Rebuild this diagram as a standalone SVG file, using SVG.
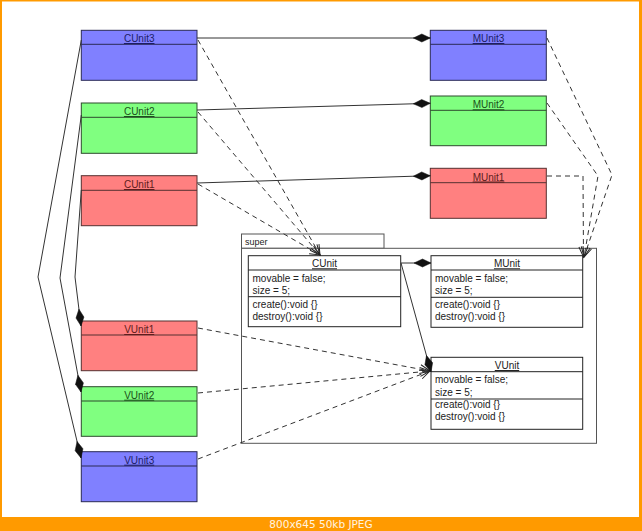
<svg xmlns="http://www.w3.org/2000/svg" width="642" height="531" viewBox="0 0 642 531">
<style>
.t{font-family:"Liberation Sans",Arial,sans-serif;font-size:10px;fill:#222}
.title{text-anchor:middle;text-decoration:underline}
.cls{fill:#fff;stroke:#222;stroke-width:1}
.div{stroke:#222;stroke-width:1}
.blue{fill:#8080ff;stroke:#2a2a55;stroke-width:1}
.green{fill:#80ff80;stroke:#2d4a2d;stroke-width:1}
.red{fill:#ff8080;stroke:#553030;stroke-width:1}
.tb{fill:#1c1c66}
.tg{fill:#1a501a}
.tr{fill:#601c1c}
.solid{fill:none;stroke:#333;stroke-width:1}
.dash{fill:none;stroke:#333;stroke-width:1;stroke-dasharray:5,4}
</style>
<defs>
<marker id="diamond" markerUnits="userSpaceOnUse" orient="auto" refX="17" refY="0" markerWidth="20" markerHeight="10" viewBox="0 -5 20 10" overflow="visible">
<path d="M0,0 L8.5,-4 L17,0 L8.5,4 z" fill="#111" stroke="#111" stroke-width="0.5"/>
</marker>
<marker id="open" markerUnits="userSpaceOnUse" orient="auto" refX="0" refY="0" markerWidth="12" markerHeight="10" viewBox="-12 -5 12 10" overflow="visible">
<path d="M-10,-4.5 L0,0 L-10,4.5" fill="none" stroke="#222" stroke-width="1"/>
</marker>
</defs>
<rect x="0" y="0" width="642" height="531" fill="#ff9a00"/>
<rect x="2" y="1.5" width="637" height="515.5" fill="#ffffff"/>
<text x="321" y="527.5" font-family="DejaVu Sans, Verdana, sans-serif" font-size="10.5" fill="#fff4e0" text-anchor="middle">800x645 50kb JPEG</text>

<g id="package-super">
<rect x="241.5" y="234" width="142.5" height="14.3" fill="#fff" stroke="#555" stroke-width="1"/>
<rect x="241.5" y="248.3" width="355" height="195" fill="#fff" stroke="#555" stroke-width="1"/>
<text x="245" y="245" class="t" style="font-size:9px">super</text>
</g>

<g id="CUnit3">
<rect x="81.3" y="30.3" width="115.7" height="50" class="blue"/>
<line x1="81.3" y1="44.3" x2="197" y2="44.3" stroke="#2a2a55"/>
<text x="139.2" y="42" class="t title tb">CUnit3</text>
</g>
<g id="CUnit2">
<rect x="81.3" y="103" width="115.7" height="50.3" class="green"/>
<line x1="81.3" y1="117.3" x2="197" y2="117.3" stroke="#2d4a2d"/>
<text x="139.2" y="115" class="t title tg">CUnit2</text>
</g>
<g id="CUnit1">
<rect x="81.3" y="175.7" width="115.7" height="50" class="red"/>
<line x1="81.3" y1="190.3" x2="197" y2="190.3" stroke="#553030"/>
<text x="139.2" y="188" class="t title tr">CUnit1</text>
</g>

<g id="MUnit3">
<rect x="430.3" y="30.3" width="116" height="50" class="blue"/>
<line x1="430.3" y1="44.3" x2="546.3" y2="44.3" stroke="#2a2a55"/>
<text x="488.5" y="42" class="t title tb">MUnit3</text>
</g>
<g id="MUnit2">
<rect x="430.3" y="96" width="116" height="49.7" class="green"/>
<line x1="430.3" y1="110.3" x2="546.3" y2="110.3" stroke="#2d4a2d"/>
<text x="488.5" y="108.3" class="t title tg">MUnit2</text>
</g>
<g id="MUnit1">
<rect x="430.3" y="168.3" width="116" height="50" class="red"/>
<line x1="430.3" y1="182.7" x2="546.3" y2="182.7" stroke="#553030"/>
<text x="488.5" y="180.5" class="t title tr">MUnit1</text>
</g>

<g id="VUnit1">
<rect x="81.3" y="321" width="115.7" height="49.7" class="red"/>
<line x1="81.3" y1="335" x2="197" y2="335" stroke="#553030"/>
<text x="139.2" y="333" class="t title tr">VUnit1</text>
</g>
<g id="VUnit2">
<rect x="81.3" y="386.7" width="115.7" height="49.6" class="green"/>
<line x1="81.3" y1="401" x2="197" y2="401" stroke="#2d4a2d"/>
<text x="139.2" y="398.7" class="t title tg">VUnit2</text>
</g>
<g id="VUnit3">
<rect x="81.3" y="451.7" width="115.7" height="50" class="blue"/>
<line x1="81.3" y1="466" x2="197" y2="466" stroke="#2a2a55"/>
<text x="139.2" y="463.7" class="t title tb">VUnit3</text>
</g>

<g id="CUnit">
<rect x="248.3" y="255.7" width="152.4" height="71" class="cls"/>
<line x1="248.3" y1="270" x2="400.7" y2="270" class="div"/>
<line x1="248.3" y1="296.7" x2="400.7" y2="296.7" class="div"/>
<text x="324.5" y="267.3" class="t title">CUnit</text>
<text x="252.5" y="282" class="t">movable = false;</text>
<text x="252.5" y="294" class="t">size = 5;</text>
<text x="252.5" y="308" class="t">create():void {}</text>
<text x="252.5" y="320" class="t">destroy():void {}</text>
</g>
<g id="MUnit">
<rect x="431" y="255.7" width="151.7" height="71.6" class="cls"/>
<line x1="431" y1="270" x2="582.7" y2="270" class="div"/>
<line x1="431" y1="297.3" x2="582.7" y2="297.3" class="div"/>
<text x="507" y="267.3" class="t title">MUnit</text>
<text x="435" y="282" class="t">movable = false;</text>
<text x="435" y="294" class="t">size = 5;</text>
<text x="435" y="308.3" class="t">create():void {}</text>
<text x="435" y="320.3" class="t">destroy():void {}</text>
</g>
<g id="VUnit">
<rect x="431" y="357.3" width="151.7" height="72" class="cls"/>
<line x1="431" y1="371.7" x2="582.7" y2="371.7" class="div"/>
<line x1="431" y1="399" x2="582.7" y2="399" class="div"/>
<text x="507" y="369" class="t title">VUnit</text>
<text x="435" y="383.3" class="t">movable = false;</text>
<text x="435" y="395.5" class="t">size = 5;</text>
<text x="435" y="408" class="t">create():void {}</text>
<text x="435" y="420.3" class="t">destroy():void {}</text>
</g>

<g id="connectors">
<path d="M197,38 L430.3,38" class="solid" marker-end="url(#diamond)"/>
<path d="M197,110 L430.3,103.3" class="solid" marker-end="url(#diamond)"/>
<path d="M197,183 L430.3,175.7" class="solid" marker-end="url(#diamond)"/>

<path d="M198,40 L320,255" class="dash" marker-end="url(#open)"/>
<path d="M198,112 L320,255" class="dash" marker-end="url(#open)"/>
<path d="M198,184 L320,255" class="dash" marker-end="url(#open)"/>

<path d="M547,38 L612,175 L584,257" class="dash" marker-end="url(#open)"/>
<path d="M547,103 L598,176 L584,257" class="dash" marker-end="url(#open)"/>
<path d="M547,176 L583,176 L583.5,257" class="dash" marker-end="url(#open)"/>

<path d="M198,328 L430,371" class="dash" marker-end="url(#open)"/>
<path d="M198,393 L430,371" class="dash" marker-end="url(#open)"/>
<path d="M198,459 L430,371" class="dash" marker-end="url(#open)"/>

<path d="M401,263 L431,263" class="solid" marker-end="url(#diamond)"/>
<path d="M401,263 L431,372" class="solid" marker-end="url(#diamond)"/>

<path d="M81.3,40 L38,277 L81,458" class="solid" marker-end="url(#diamond)"/>
<path d="M81.3,115 L60,278 L81,392" class="solid" marker-end="url(#diamond)"/>
<path d="M81.3,190 L75,277 L81,326" class="solid" marker-end="url(#diamond)"/>
</g>
</svg>
